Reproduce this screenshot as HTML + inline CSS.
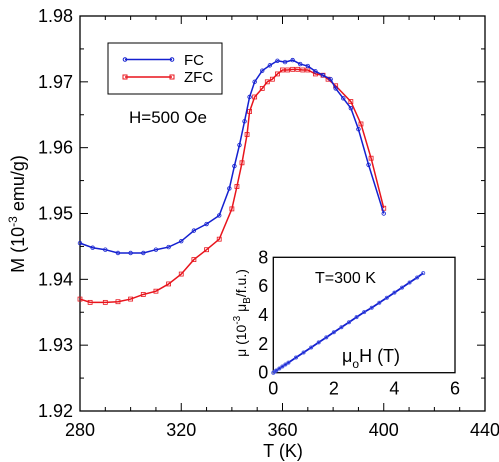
<!DOCTYPE html>
<html><head><meta charset="utf-8"><style>
html,body{margin:0;padding:0;background:#fff;}
svg{display:block;font-family:"Liberation Sans",sans-serif;}
</style></head><body>
<svg id="chart" width="499" height="462" viewBox="0 0 499 462" xmlns="http://www.w3.org/2000/svg">
<g id="main"></g>
<g id="inset"></g>
</svg>
<script>
const fcT=[280,285,290,295,300,305,310,315,320,325,330,335,339,341,343,345,347,349,352,355,358,361,364,367,370,373,376,379,381,384,387,390,394,400];
const fcM=[1.9455,1.9448,1.9445,1.9440,1.9440,1.9440,1.9445,1.9449,1.9458,1.9474,1.9484,1.9497,1.9538,1.9572,1.9604,1.9640,1.9677,1.9700,1.9717,1.9725,1.9732,1.9730,1.9733,1.9727,1.9724,1.9716,1.9710,1.9704,1.9690,1.9675,1.9660,1.9628,1.9574,1.9500];
const zfcT=[280,284,290,295,300,305,310,315,320,325,330,335,340,342,344,346,347,349,352,354,356,358,360,362,364,366,368,370,373,376,378,381,387,391,395,400];
const zfcM=[1.9370,1.9365,1.9365,1.9366,1.9370,1.9377,1.9382,1.9393,1.9408,1.9430,1.9445,1.9461,1.9507,1.9541,1.9577,1.9620,1.9655,1.9677,1.9690,1.9700,1.9704,1.9712,1.9718,1.9718,1.9719,1.9719,1.9718,1.9718,1.9712,1.9710,1.9704,1.9694,1.9670,1.9636,1.9584,1.9508];
const xTicks=[280,320,360,400,440];
const yTicks=[1.92,1.93,1.94,1.95,1.96,1.97,1.98];
const insH=[0,0.05,0.1,0.2,0.3,0.4,0.5,0.75,1,1.25,1.5,1.75,2,2.25,2.5,2.75,3,3.25,3.5,3.75,4,4.25,4.5,4.75,4.95];
const insMu=[0,0.08,0.15,0.29,0.43,0.57,0.7,1.05,1.4,1.75,2.1,2.45,2.8,3.15,3.5,3.85,4.2,4.5,4.85,5.2,5.55,5.9,6.25,6.6,6.9];
const insXTicks=[0,2,4,6];
const insYTicks=[0,2,4,6,8];

const NS="http://www.w3.org/2000/svg";
function mk(parent,tag,attrs,text){const e=document.createElementNS(NS,tag);for(const k in attrs)e.setAttribute(k,attrs[k]);if(text!==undefined)e.textContent=text;parent.appendChild(e);return e;}
const main=document.getElementById('main');
const X0=80,X1=485,Y0=411,Y1=16;
const sx=t=>X0+(t-280)/(440-280)*(X1-X0);
const sy=m=>Y0-(m-1.92)/(1.98-1.92)*(Y0-Y1);
let fr=mk(main,'rect',{x:X0,y:Y1,width:X1-X0,height:Y0-Y1,fill:'none',stroke:'#000','stroke-width':1.3});


for(let t=280;t<=440;t+=10){const major=(t-280)%40===0;const L=major?8:4;
 mk(main,'line',{x1:sx(t),x2:sx(t),y1:Y0,y2:Y0-L,stroke:'#000'});
 mk(main,'line',{x1:sx(t),x2:sx(t),y1:Y1,y2:Y1+L,stroke:'#000'});}
for(let i=0;i<=12;i++){const m=1.92+i*0.005;const L=i%2===0?8:4;
 mk(main,'line',{x1:X0,x2:X0+L,y1:sy(m),y2:sy(m),stroke:'#000'});
 mk(main,'line',{x1:X1,x2:X1-L,y1:sy(m),y2:sy(m),stroke:'#000'});}
xTicks.forEach(t=>{const e=mk(main,'text',{x:sx(t),y:Y0+25,'text-anchor':'middle','font-size':18},String(t));
 
 });
yTicks.forEach(m=>{const e=mk(main,'text',{x:X0-7,y:sy(m)+6,'text-anchor':'end','font-size':18},m.toFixed(2));
 
 });
let xt=mk(main,'text',{x:283,y:457,'text-anchor':'middle','font-size':18},'T (K)');


let yt=mk(main,'text',{transform:'translate(24,214) rotate(-90)','text-anchor':'middle','font-size':18});


yt.innerHTML='M (10<tspan dy="-7" font-size="12">-3</tspan><tspan dy="7"> emu/g)</tspan>';
function series(T,M,color,name,marker){
 const g=mk(main,'g',{});
 
 
 const p=mk(g,'polyline',{points:T.map((t,i)=>sx(t)+','+sy(M[i])).join(' '),fill:'none',stroke:color,'stroke-width':1.5});
 
 
 T.forEach((t,i)=>{let e;
  if(marker==='c')e=mk(g,'circle',{cx:sx(t),cy:sy(M[i]),r:1.8,fill:'none',stroke:color,'stroke-width':0.8});
  else e=mk(g,'rect',{x:sx(t)-2,y:sy(M[i])-2,width:4,height:4,fill:'none',stroke:color,'stroke-width':0.8});
  
  });
}
series(zfcT,zfcM,'#e8141c','zfc','s');
series(fcT,fcM,'#1420d0','fc','c');
const lg=mk(main,'g',{});


mk(lg,'rect',{x:108,y:43,width:114,height:51,fill:'#fff',stroke:'#000','stroke-width':1});
mk(lg,'line',{x1:125,x2:172,y1:59.5,y2:59.5,stroke:'#1420d0','stroke-width':1.5});
mk(lg,'circle',{cx:125,cy:59.5,r:1.8,fill:'none',stroke:'#1420d0'});
mk(lg,'circle',{cx:172,cy:59.5,r:1.8,fill:'none',stroke:'#1420d0'});
let l1=mk(lg,'text',{x:184,y:65,'font-size':15},'FC');


mk(lg,'line',{x1:125,x2:172,y1:77,y2:77,stroke:'#e8141c','stroke-width':1.5});
mk(lg,'rect',{x:123,y:75,width:4,height:4,fill:'none',stroke:'#e8141c'});
mk(lg,'rect',{x:170,y:75,width:4,height:4,fill:'none',stroke:'#e8141c'});
let l2=mk(lg,'text',{x:184,y:82,'font-size':15},'ZFC');


let ht=mk(main,'text',{x:129,y:123,'font-size':17},'H=500 Oe');



const ins=document.getElementById('inset');
const IX0=273.3,IX1=455,IY0=372.7,IY1=257.3;
const ix=h=>IX0+h/6*(IX1-IX0);
const iy=v=>IY0-v/8*(IY0-IY1);
mk(ins,'rect',{x:IX0,y:IY1,width:IX1-IX0,height:IY0-IY1,fill:'#fff',stroke:'#000','stroke-width':1.3});
insXTicks.forEach(h=>{const e=mk(ins,'text',{x:ix(h),y:IY0+22,'text-anchor':'middle','font-size':18},String(h));
 
 });
insYTicks.forEach(v=>{const e=mk(ins,'text',{x:IX0-5,y:iy(v)+6,'text-anchor':'end','font-size':18},String(v));
 
 });
const ip=mk(ins,'polyline',{points:insH.map((h,i)=>ix(h)+','+iy(insMu[i])).join(' '),fill:'none',stroke:'#1420d0','stroke-width':1.8});


insH.forEach((h,i)=>{const e=mk(ins,'circle',{cx:ix(h),cy:iy(insMu[i]),r:1.6,fill:'none',stroke:'#4050e0','stroke-width':0.8});
 
 });
let it=mk(ins,'text',{x:315,y:283,'font-size':16},'T=300 K');


let ixt=mk(ins,'text',{x:342,y:362,'font-size':18});


ixt.innerHTML='μ<tspan dy="6" font-size="12">o</tspan><tspan dy="-6">H (T)</tspan>';
let iyt=mk(ins,'text',{transform:'translate(246,313) rotate(-90)','text-anchor':'middle','font-size':14});


iyt.innerHTML='μ (10<tspan dy="-6" font-size="10">-3</tspan><tspan dy="6"> μ</tspan><tspan dy="4" font-size="10">B</tspan><tspan dy="-4">/f.u.)</tspan>';
</script>
</body></html>
